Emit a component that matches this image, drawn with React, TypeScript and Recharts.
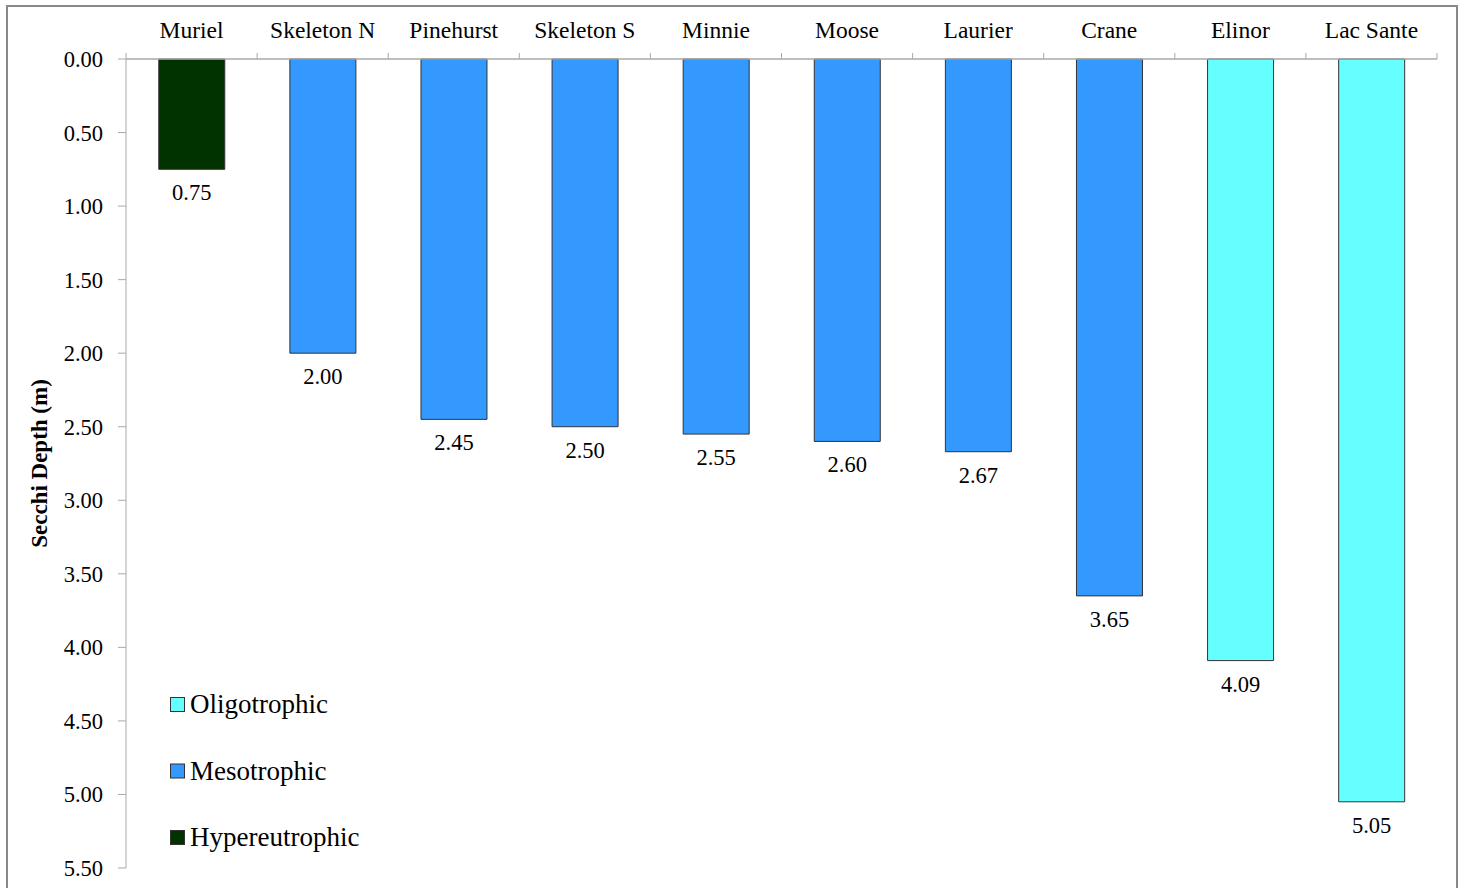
import React from 'react';
import { BarChart, Bar, XAxis, YAxis, Cell, LabelList, Legend } from 'recharts';

const lakes = ['Muriel', 'Skeleton N', 'Pinehurst', 'Skeleton S', 'Minnie', 'Moose', 'Laurier', 'Crane', 'Elinor', 'Lac Sante'];
const secchiDepth = [0.75, 2.0, 2.45, 2.5, 2.55, 2.6, 2.67, 3.65, 4.09, 5.05];
const trophicClass = [
  'Hypereutrophic', 'Mesotrophic', 'Mesotrophic', 'Mesotrophic', 'Mesotrophic',
  'Mesotrophic', 'Mesotrophic', 'Mesotrophic', 'Oligotrophic', 'Oligotrophic',
];
const yTicks = [0, 0.5, 1, 1.5, 2, 2.5, 3, 3.5, 4, 4.5, 5, 5.5];
const legendOrder = ['Oligotrophic', 'Mesotrophic', 'Hypereutrophic'];
const classColors: Record<string, string> = {
  Oligotrophic: '#66FFFF',
  Mesotrophic: '#3399FF',
  Hypereutrophic: '#003300',
};

const data = lakes.map((lake, i) => ({ lake, depth: secchiDepth[i], cls: trophicClass[i] }));

const FONT = '"Liberation Serif", "Times New Roman", serif';
const AXIS_COLOR = '#a9a9a9';
const X_TICK_MARGIN = 21;

const CategoryTick = (props: any) => {
  const { x, y, payload, index, visibleTicksCount } = props;
  const half = payload && typeof payload.offset === 'number' && payload.offset > 0 ? payload.offset : 65.55;
  const axisY = y + X_TICK_MARGIN;
  const last = index === (visibleTicksCount ?? lakes.length) - 1;
  return (
    <g>
      <text x={x} y={y} textAnchor="middle" fontSize={23.5} fill="#000" fontFamily={FONT}>
        {payload.value}
      </text>
      <line x1={x - half} x2={x - half} y1={axisY - 6} y2={axisY} stroke={AXIS_COLOR} strokeWidth={1} />
      {last && <line x1={x + half} x2={x + half} y1={axisY - 6} y2={axisY} stroke={AXIS_COLOR} strokeWidth={1} />}
    </g>
  );
};

const ValueLabel = (props: any) => {
  const vb = props.viewBox ?? props;
  const x = vb.x ?? props.x;
  const y = vb.y ?? props.y;
  const width = vb.width ?? props.width;
  const height = vb.height ?? props.height;
  const bottom = Math.max(y, y + height);
  return (
    <text x={x + width / 2} y={bottom + 31} textAnchor="middle" fontSize={22.5} fill="#000" fontFamily={FONT}>
      {Number(props.value).toFixed(2)}
    </text>
  );
};

const YLabel = (props: any) => {
  const vb = props.viewBox || { x: 0, y: 59, width: 126, height: 809 };
  const cx = vb.x + 47;
  const cy = vb.y + vb.height / 2;
  return (
    <text
      x={cx}
      y={cy}
      transform={`rotate(-90 ${cx} ${cy})`}
      textAnchor="middle"
      fontSize={23}
      fontWeight="bold"
      fill="#000"
      fontFamily={FONT}
    >
      Secchi Depth (m)
    </text>
  );
};

const LegendBox = () => (
  <svg width={280} height={180} style={{ display: 'block' }}>
    {legendOrder.map((name, i) => (
      <g key={name}>
        <rect x={2.5} y={11.5 + i * 66.5} width={14} height={14} fill={classColors[name]} stroke="#333" strokeWidth={1} />
        <text x={22} y={27 + i * 66.5} fontSize={27} fill="#000" fontFamily={FONT}>
          {name}
        </text>
      </g>
    ))}
  </svg>
);

export default function App() {
  return (
    <div style={{ position: 'absolute', left: 0, top: 0, width: 1463, height: 888, overflow: 'hidden', background: '#fff' }}>
      <div
        style={{
          position: 'absolute',
          left: 6,
          top: 5,
          width: 1452,
          height: 920,
          border: '2px solid #888',
          boxSizing: 'border-box',
        }}
      />
      <div style={{ position: 'absolute', left: 0, top: 0 }}>
        <BarChart
          width={1463}
          height={888}
          data={data}
          margin={{ top: 10, right: 26, bottom: 20, left: 0 }}
          barCategoryGap="25%"
        >
          <XAxis
            dataKey="lake"
            orientation="top"
            height={49}
            interval={0}
            tickSize={0}
            tickMargin={X_TICK_MARGIN}
            tickLine={false}
            axisLine={{ stroke: AXIS_COLOR, strokeWidth: 1.5 }}
            tick={<CategoryTick />}
          />
          <YAxis
            type="number"
            domain={[0, 5.5]}
            ticks={yTicks}
            reversed
            interval={0}
            width={126}
            tickSize={8}
            tickMargin={15}
            axisLine={{ stroke: AXIS_COLOR, strokeWidth: 1 }}
            tickLine={{ stroke: AXIS_COLOR }}
            tick={{ fill: '#000', fontSize: 22.5, fontFamily: FONT }}
            tickFormatter={(v: number) => v.toFixed(2)}
            label={(p: any) => <YLabel {...p} />}
          />
          <Legend
            layout="vertical"
            align="center"
            verticalAlign="middle"
            wrapperStyle={{ left: 168, top: 686, width: 280, height: 180 }}
            content={() => <LegendBox />}
          />
          <Bar dataKey="depth" isAnimationActive={false} stroke="#333" strokeWidth={1}>
            {data.map((d) => (
              <Cell key={d.lake} fill={classColors[d.cls]} />
            ))}
            <LabelList dataKey="depth" content={(p: any) => <ValueLabel {...p} />} />
          </Bar>
        </BarChart>
      </div>
    </div>
  );
}
